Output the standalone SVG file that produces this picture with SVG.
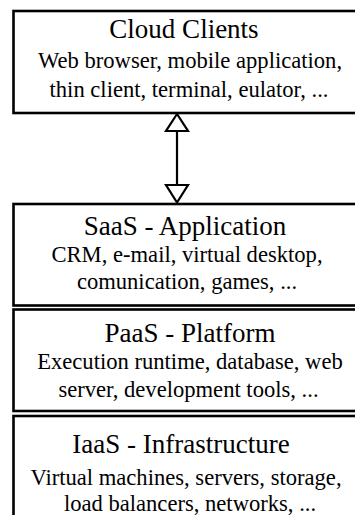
<svg xmlns="http://www.w3.org/2000/svg" width="355" height="515" viewBox="0 0 355 515">
<style>
.box{fill:#fff;stroke:#000;stroke-width:2.6}
text{font-family:'Liberation Serif','Times New Roman','DejaVu Serif',serif;text-anchor:middle;fill:#000}
.t{font-size:27px}
.s{font-size:22.6px}
.c{stroke:#000;stroke-width:2.2;fill:none}
.h{stroke:#000;stroke-width:2.2;fill:#fff;stroke-linejoin:miter}
</style>
<rect width="355" height="515" fill="#fff"/>
<g id="cloud-clients">
<rect class="box" x="13.5" y="11" width="360" height="102"/>
<text class="t" x="184" y="38">Cloud Clients</text>
<text class="s" x="190" y="68">Web browser, mobile application,</text>
<text class="s" x="189" y="97">thin client, terminal, eulator, ...</text>
</g>
<g id="saas">
<rect class="box" x="13.5" y="204" width="360" height="101.5"/>
<text class="t" x="185" y="235">SaaS - Application</text>
<text class="s" x="187" y="262">CRM, e-mail, virtual desktop,</text>
<text class="s" x="187" y="289">comunication, games, ...</text>
</g>
<g id="paas">
<rect class="box" x="13.5" y="309.5" width="360" height="101.5"/>
<text class="t" x="190" y="342">PaaS - Platform</text>
<text class="s" x="190" y="369">Execution runtime, database, web</text>
<text class="s" x="188.5" y="397">server, development tools, ...</text>
</g>
<g id="iaas">
<rect class="box" x="13.5" y="416" width="360" height="120"/>
<text class="t" x="181" y="453">IaaS - Infrastructure</text>
<text class="s" x="186" y="485">Virtual machines, servers, storage,</text>
<text class="s" x="190" y="511">load balancers, networks, ...</text>
</g>
<g id="connectors">
<line class="c" x1="177" y1="131" x2="177" y2="185"/>
<polygon class="h" points="177,114 166,131 188,131"/>
<polygon class="h" points="177,202.5 166,185 188,185"/>
</g>
</svg>
